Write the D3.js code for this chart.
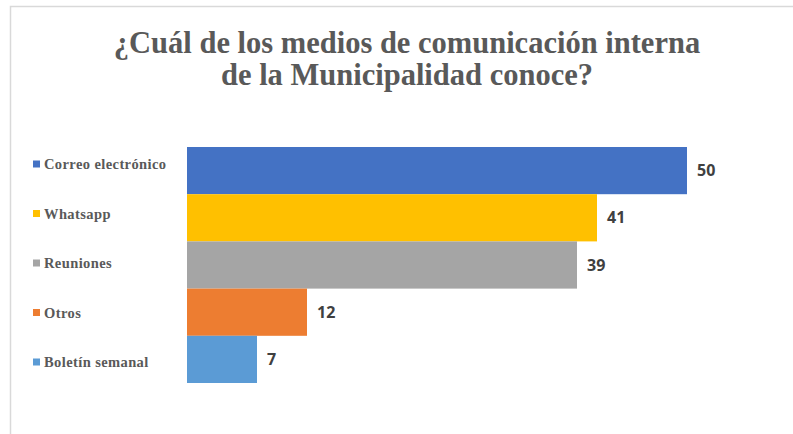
<!DOCTYPE html>
<html>
<head>
<meta charset="utf-8">
<script src="https://d3js.org/d3.v7.min.js"></script>
<style>
  body { margin: 0; background: #fff; }
</style>
</head>
<body>
<script>
// chart data
const categories = ["Correo electrónico", "Whatsapp", "Reuniones", "Otros", "Boletín semanal"];
const values = [50, 41, 39, 12, 7];
const colors = ["#4472c4", "#ffc000", "#a5a5a5", "#ed7d31", "#5b9bd5"];
const titleLines = ["¿Cuál de los medios de comunicación interna", "de la Municipalidad conoce?"];

const canvWidth = 793, canvHeight = 434;
const svg = d3.select("body").append("svg")
    .attr("width", canvWidth)
    .attr("height", canvHeight);

// chart frame (runs off the right and bottom edge)
svg.append("rect")
    .attr("x", 10.5)
    .attr("y", 6.5)
    .attr("width", 900)
    .attr("height", 600)
    .attr("fill", "none")
    .attr("stroke", "#d9d9d9")
    .attr("stroke-width", 1.5);

// title
svg.append("text")
    .attr("x", 407)
    .attr("y", 53)
    .attr("font-family", "Liberation Serif, serif")
    .attr("font-weight", "bold")
    .attr("font-size", "30.5px")
    .attr("fill", "#595959")
    .style("text-anchor", "middle")
    .selectAll("tspan")
    .data(titleLines)
    .enter()
    .append("tspan")
    .attr("x", 407)
    .attr("dy", (d, i) => i === 0 ? 0 : 32)
    .text(d => d);

const margin = {top: 147, left: 187};
const plotWidth = 500, plotHeight = 236;

const g = svg.append("g")
    .attr("transform", "translate(" + margin.left + "," + margin.top + ")");

const xScale = d3.scaleLinear()
    .domain([0, 50])
    .range([0, plotWidth]);

const yScale = d3.scaleBand()
    .domain(categories)
    .range([0, plotHeight])
    .padding(0);

g.selectAll("rect.bar")
    .data(values)
    .enter()
    .append("rect")
    .attr("class", "bar")
    .attr("x", 0)
    .attr("y", (d, i) => yScale(categories[i]))
    .attr("width", d => xScale(d))
    .attr("height", yScale.bandwidth())
    .attr("fill", (d, i) => colors[i]);

// value labels
g.selectAll("text.value")
    .data(values)
    .enter()
    .append("text")
    .attr("class", "value")
    .attr("x", d => xScale(d) + 10)
    .attr("y", (d, i) => yScale(categories[i]) + yScale.bandwidth() / 2)
    .attr("dy", "0.35em")
    .attr("font-family", "Open Sans, sans-serif")
    .attr("font-weight", "bold")
    .attr("font-size", "16px")
    .attr("fill", "#404040")
    .text(d => d);

// legend on the left
const legendY = d3.scalePoint()
    .domain(categories)
    .range([164, 362]);

const legend = svg.selectAll("g.legend")
    .data(categories)
    .enter()
    .append("g")
    .attr("class", "legend")
    .attr("transform", d => "translate(33," + legendY(d) + ")");

legend.append("rect")
    .attr("x", 0)
    .attr("y", -3.5)
    .attr("width", 7)
    .attr("height", 7)
    .attr("fill", (d, i) => colors[i]);

legend.append("text")
    .attr("x", 11)
    .attr("y", 0)
    .attr("dy", "0.35em")
    .attr("font-family", "Liberation Serif, serif")
    .attr("font-weight", "bold")
    .attr("font-size", "14.5px")
    .attr("letter-spacing", "0.4px")
    .attr("fill", "#595959")
    .text(d => d);
</script>
</body>
</html>
